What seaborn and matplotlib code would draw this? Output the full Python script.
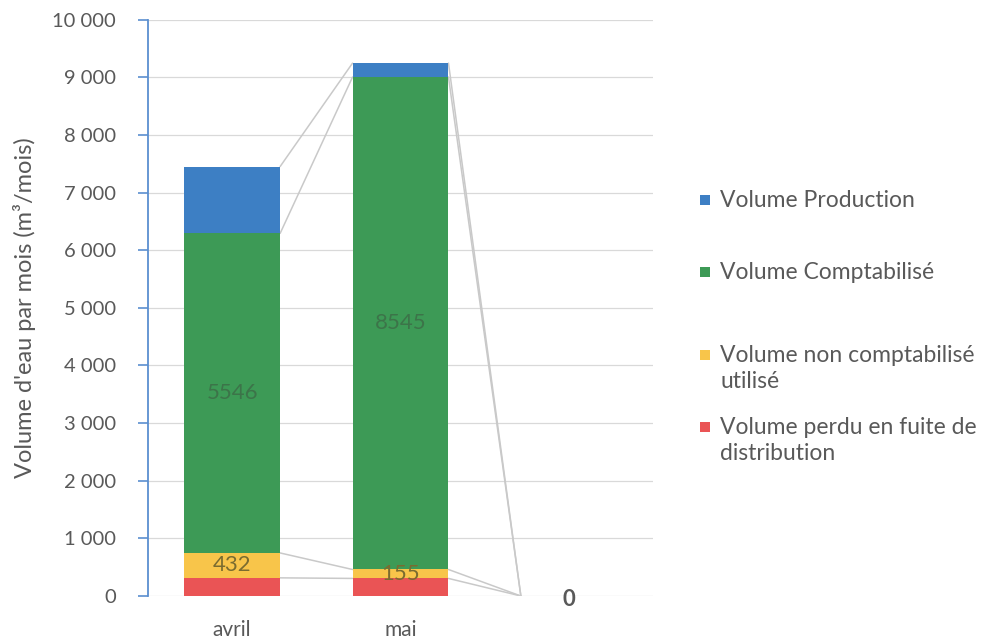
import numpy as np
import pandas as pd
import matplotlib.pyplot as plt
import seaborn as sns
from matplotlib.patches import Rectangle
from matplotlib.ticker import FuncFormatter

# Data, stacked from bottom to top
months = ['avril', 'mai', ' ']
series = ['Volume perdu en fuite de\ndistribution',
          'Volume non comptabilisé\nutilisé',
          'Volume Comptabilisé',
          'Volume Production']
perdu = [315, 305, 0]
non_compta = [432, 155, 0]
compta = [5546, 8545, 0]
production = [1160, 242, 0]

colors = ['#ea5455', '#f8c54a', '#3d9a56', '#3d7fc4']
grey = '#595959'

values = np.array([perdu, non_compta, compta, production])
cumul = np.cumsum(values, axis=0)

df = pd.DataFrame({
    'mois': months * len(series),
    'serie': np.repeat(series, len(months)),
    'cumul': cumul.ravel(),
})

sns.set_theme(style='white')
plt.rcParams['font.family'] = ['Lato', 'DejaVu Sans']

fig = plt.figure(figsize=(10.02, 6.41), dpi=100)
ax = fig.add_axes([0.1477, 0.0702, 0.504, 0.899])

bar_w = 0.57
# overlapping cumulative bars, drawn from the top series down
for i in reversed(range(len(series))):
    sns.barplot(data=df[df['serie'] == series[i]], x='mois', y='cumul',
                order=months, color=colors[i], saturation=1, width=bar_w,
                errorbar=None, edgecolor='none', linewidth=0, ax=ax, zorder=3)

# series lines between neighbouring bars
for k in range(len(series)):
    for j in range(len(months) - 1):
        ax.plot([j + bar_w / 2, j + 1 - bar_w / 2], [cumul[k, j], cumul[k, j + 1]],
                color='#c9c9c9', lw=1.1, zorder=2)

# data labels
for j in range(2):
    ax.text(j, cumul[1, j] + compta[j] / 2, str(compta[j]), ha='center', va='center',
            fontsize=16, color='#3c7449', zorder=4)
    ax.text(j, cumul[0, j] + non_compta[j] / 2, str(non_compta[j]), ha='center', va='center',
            fontsize=16, color='#7a6c30', zorder=4)
ax.text(2, -60, str(int(cumul[-1, 2])), ha='center', va='center', fontsize=16,
        color=grey, fontweight='bold', zorder=4)

ax.set_xlim(-0.5, 2.5)
ax.set_ylim(0, 10000)
ax.set_yticks(np.arange(0, 10001, 1000))
ax.yaxis.set_major_formatter(FuncFormatter(lambda v, p: f'{int(v):,}'.replace(',', ' ')))
ax.set_xticks(range(len(months)))
ax.set_xticklabels(months)
ax.grid(axis='y', color='#d9d9d9', lw=0.9, zorder=0)
ax.grid(axis='x', visible=False)

for s in ['top', 'right', 'bottom']:
    ax.spines[s].set_visible(False)
ax.spines['left'].set_color('#5b8fd0')
ax.spines['left'].set_linewidth(1.3)

ax.tick_params(axis='y', left=True, length=7, width=1.2, color='#5b8fd0',
               labelsize=14.5, labelcolor=grey, pad=16)
ax.tick_params(axis='x', bottom=False, labelsize=15, labelcolor=grey, pad=11)

ax.set_xlabel('')
ax.set_ylabel("Volume d'eau par mois (m³/mois)", fontsize=17, color=grey, labelpad=12)

# legend, top series first
W, H = 1002, 641
legend_rows = [200, 272, 355, 427]
for y, i in zip(legend_rows, reversed(range(len(series)))):
    fig.add_artist(Rectangle((700 / W, 1 - (y + 5) / H), 10 / W, 10 / H,
                             transform=fig.transFigure, color=colors[i], lw=0))
    fig.text(720 / W, 1 - (y - 10) / H, series[i], ha='left', va='top',
             fontsize=16.5, color=grey, linespacing=1.3)

fig.savefig('out.png', dpi=100)
